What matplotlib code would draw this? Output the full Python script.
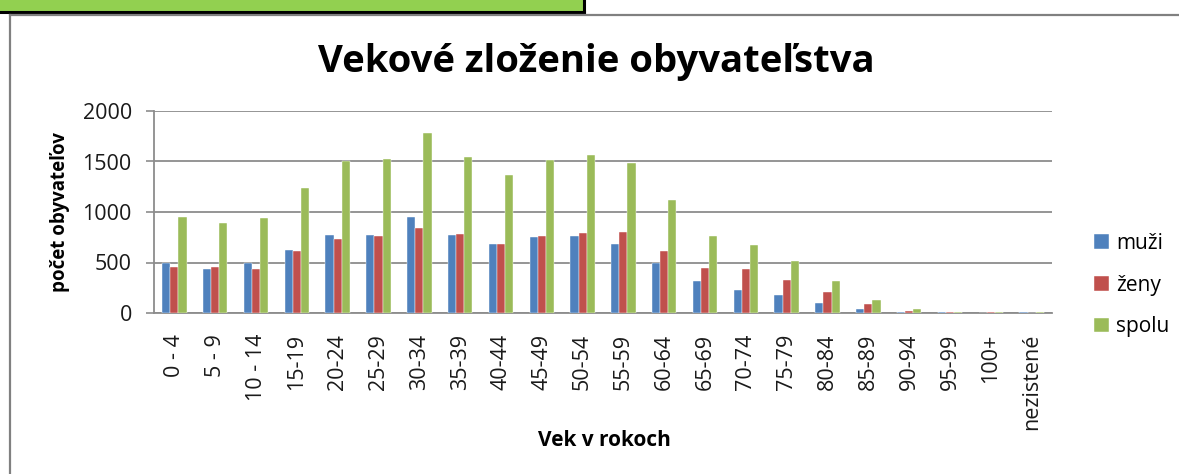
import matplotlib.pyplot as plt
import numpy as np
from matplotlib.patches import Rectangle
from matplotlib.lines import Line2D

plt.rcParams['font.family'] = ['Open Sans', 'DejaVu Sans']

categories = ['0 - 4', '5 - 9', '10 - 14', '15-19', '20-24', '25-29', '30-34',
              '35-39', '40-44', '45-49', '50-54', '55-59', '60-64', '65-69',
              '70-74', '75-79', '80-84', '85-89', '90-94', '95-99', '100+',
              'nezistené']

muzi = [495, 436, 500, 624, 769, 769, 947, 769, 680, 749, 759, 680, 495, 313,
        224, 178, 102, 36, 12, 8, 0, 10]
zeny = [458, 458, 436, 614, 736, 759, 838, 782, 680, 759, 792, 802, 614, 446,
        436, 323, 211, 92, 24, 6, 10, 0]
spolu = [950, 891, 937, 1238, 1501, 1525, 1782, 1548, 1369, 1518, 1561, 1482,
         1115, 759, 670, 515, 313, 125, 36, 14, 10, 10]

series = [('muži', muzi, '#4F81BD'), ('ženy', zeny, '#C0504D'),
          ('spolu', spolu, '#9BBB59')]

W, H = 1179, 474
fig = plt.figure(figsize=(W / 100, H / 100), dpi=100)

# outer decorations (green strip and chart frame)
fig.add_artist(Rectangle((0, 1 - 11 / H), 583 / W, 11 / H, transform=fig.transFigure,
                         facecolor='#92D050', edgecolor='none'))
fig.add_artist(Line2D([0, 584 / W], [1 - 12 / H, 1 - 12 / H], transform=fig.transFigure,
                      color='black', lw=2.2))
fig.add_artist(Line2D([584 / W, 584 / W], [1 - 12 / H, 1], transform=fig.transFigure,
                      color='black', lw=2.2))
fig.add_artist(Line2D([10 / W, 1], [1 - 14.5 / H, 1 - 14.5 / H], transform=fig.transFigure,
                      color='#808080', lw=1.6))
fig.add_artist(Line2D([10 / W, 10 / W], [0, 1 - 14.5 / H], transform=fig.transFigure,
                      color='#808080', lw=1.6))

ax = fig.add_axes([154 / W, 1 - 313 / H, (1052 - 154) / W, (313 - 111) / H])

x = np.arange(len(categories))
bw = 0.2
for i, (name, vals, col) in enumerate(series):
    ax.bar(x + (i - 1) * bw, vals, width=bw, color=col, label=name,
           edgecolor='white', linewidth=0.3, zorder=3)

ax.set_xlim(-0.5, len(categories) - 0.5)
ax.set_ylim(0, 2000)
ax.set_yticks([0, 500, 1000, 1500, 2000])
ax.yaxis.grid(True, color='#8C8C8C', lw=1.3, zorder=0)
ax.set_xticks(x)
ax.set_xticklabels(categories, rotation=90, fontsize=15.5, color='#1a1a1a')
ax.tick_params(axis='x', length=0, pad=15)
ax.tick_params(axis='y', length=6, width=1.2, color='#8C8C8C', pad=10,
               labelsize=15.5, labelcolor='#1a1a1a')
for s in ['top', 'right']:
    ax.spines[s].set_visible(False)
ax.spines['left'].set_color('#8C8C8C')
ax.spines['bottom'].set_color('#8C8C8C')
ax.spines['left'].set_linewidth(1.3)
ax.spines['bottom'].set_linewidth(1.3)

fig.text(596 / W, 1 - 62 / H, 'Vekové zloženie obyvateľstva', ha='center', va='center',
         fontsize=27.5, fontweight='bold')
ax.set_ylabel('počet obyvateľov', fontsize=13.5, fontweight='bold', labelpad=9)
fig.text(604 / W, 1 - 440 / H, 'Vek v rokoch', ha='center', va='center',
         fontsize=15, fontweight='bold')

ax.legend(loc='center left', bbox_to_anchor=(1084 / W, 1 - 285 / H),
          bbox_transform=fig.transFigure, frameon=False, fontsize=15,
          handlelength=0.7, handleheight=0.7, handletextpad=0.35,
          labelspacing=1.0, borderpad=0)

fig.savefig('out.png', dpi=100)
